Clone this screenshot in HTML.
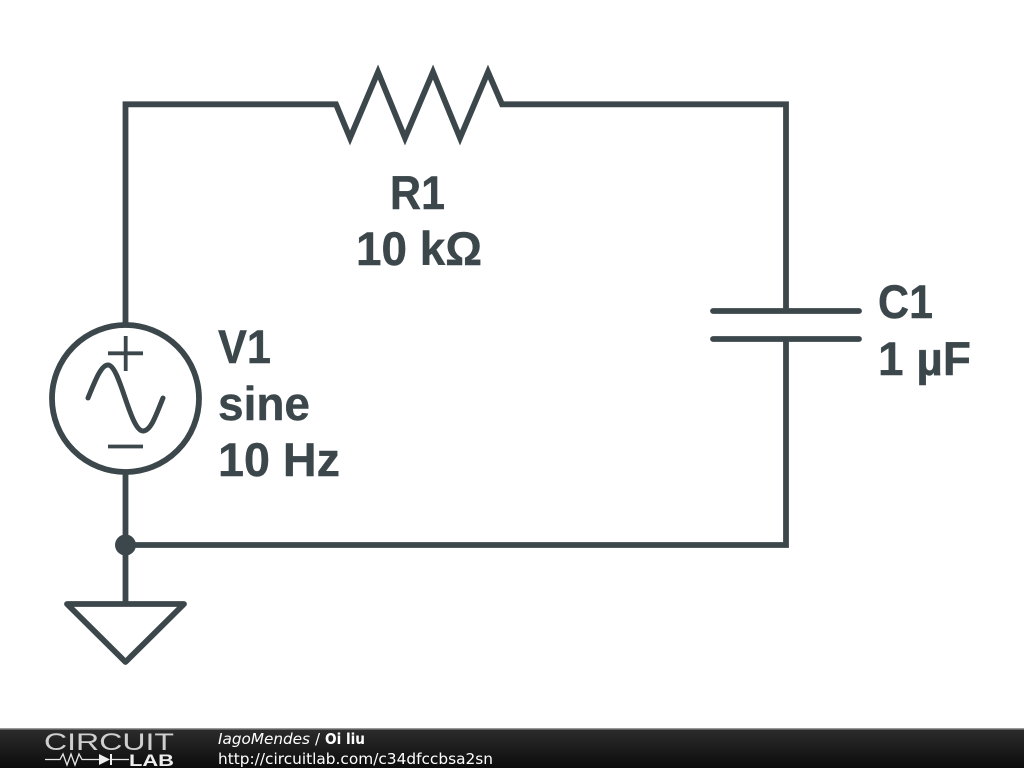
<!DOCTYPE html>
<html><head><meta charset="utf-8"><style>
html,body{margin:0;padding:0;background:#fff;width:1024px;height:768px;overflow:hidden}
svg{display:block}
.l{font-family:"Liberation Sans",sans-serif;font-weight:700;font-size:47px;fill:#3c474c;stroke:#3c474c;stroke-width:.4px}
</style></head><body>
<svg width="1024" height="768" viewBox="0 0 1024 768" xmlns="http://www.w3.org/2000/svg">
<defs><linearGradient id="g" x1="0" y1="0" x2="0" y2="1"><stop offset="0" stop-color="#2c2c2c"/><stop offset="1" stop-color="#0c0c0c"/></linearGradient></defs>
<rect width="1024" height="768" fill="#fff"/>
<g fill="none" stroke="#3c474c" stroke-width="5.800" stroke-linejoin="miter" stroke-linecap="butt">
<path d="M125.500 325V104.300H336L350 138L378 72L405 138L433 72L460 138L488 72L502 104.300H786V311"/>
<path d="M786 339V545H125.500"/>
<path d="M125.500 471V603"/>
<circle cx="125.500" cy="398.500" r="73.500"/>
<path d="M108 353.300H143M125.700 336V371M108 446.500H143" stroke-width="3.800"/>
<path d="M88 398C95 381 101 365 108 365C120 365 130 431 143 431C151 431 156 415 163 398" stroke-linecap="round" stroke-width="5"/>
<path d="M713 311H859M713 339H859" stroke-linecap="round"/>
<path d="M125.500 662L67 604H184Z" stroke-linejoin="round"/>
</g>
<circle cx="125.500" cy="545" r="10.500" fill="#3c474c"/>
<text class="l" x="390" y="209" textLength="55" lengthAdjust="spacingAndGlyphs">R1</text>
<text class="l" x="356" y="265" textLength="126" lengthAdjust="spacingAndGlyphs">10 kΩ</text>
<text class="l" x="218" y="363" textLength="53" lengthAdjust="spacingAndGlyphs">V1</text>
<text class="l" x="218" y="420" textLength="92" lengthAdjust="spacingAndGlyphs">sine</text>
<text class="l" x="218" y="476" textLength="122" lengthAdjust="spacingAndGlyphs">10 Hz</text>
<text class="l" x="878" y="318" textLength="55" lengthAdjust="spacingAndGlyphs">C1</text>
<text class="l" x="878" y="375" textLength="93" lengthAdjust="spacingAndGlyphs">1 µF</text>
<rect y="729" width="1024" height="39" fill="url(#g)"/>
<rect y="728" width="1024" height="1.500" fill="#9a9a9a"/>
<text x="44" y="750" font-family="'Liberation Sans',sans-serif" font-size="24" fill="#cfcfcf" textLength="130" lengthAdjust="spacingAndGlyphs">CIRCUIT</text>
<path d="M45 759.500H60L63 754L67 765L71 754L75 765L79 754L82 759.500H99M112 759.500H129" fill="none" stroke="#e8e8e8" stroke-width="1.300"/>
<path d="M99 754L110 759.500L99 765Z M110 754H112V765H110Z" fill="#eee"/>
<text x="129" y="766" font-family="'Liberation Sans',sans-serif" font-weight="700" font-size="17" fill="#eee" textLength="45" lengthAdjust="spacingAndGlyphs">LAB</text>
<text x="218" y="744" font-family="'DejaVu Sans',sans-serif" font-size="15" font-style="italic" fill="#fff" textLength="92" lengthAdjust="spacingAndGlyphs">IagoMendes</text>
<text x="315" y="744" font-family="'DejaVu Sans',sans-serif" font-size="15" fill="#fff">/</text>
<text x="325" y="744" font-family="'DejaVu Sans',sans-serif" font-size="15" font-weight="700" fill="#fff" textLength="40" lengthAdjust="spacingAndGlyphs">Oi liu</text>
<text x="218" y="764" font-family="'DejaVu Sans',sans-serif" font-size="15" fill="#fff" textLength="275" lengthAdjust="spacingAndGlyphs">http://circuitlab.com/c34dfccbsa2sn</text>
</svg>
</body></html>
